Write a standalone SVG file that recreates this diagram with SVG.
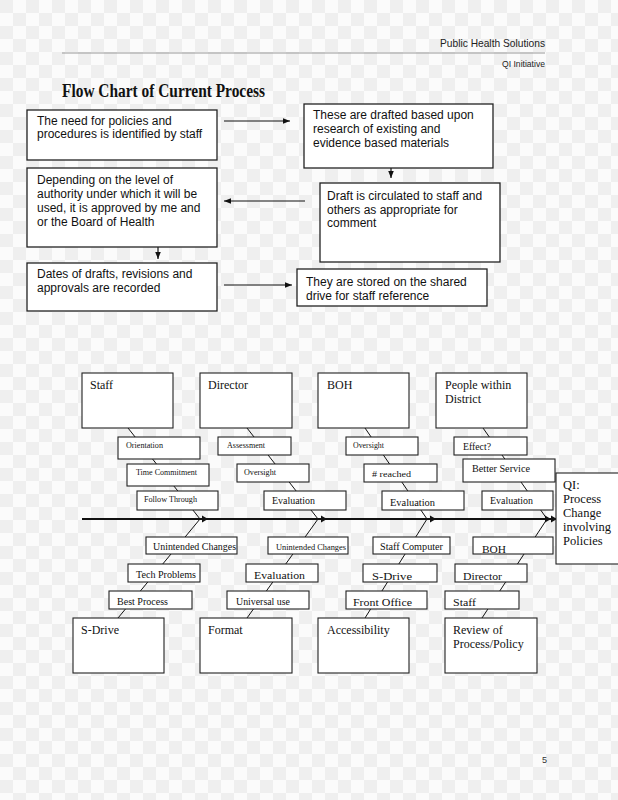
<svg xmlns="http://www.w3.org/2000/svg" width="618" height="800" viewBox="0 0 618 800">
<defs>
<pattern id="chk" width="26" height="26" patternUnits="userSpaceOnUse"><rect width="26" height="26" fill="#fbfbfb"/><rect width="13" height="13" fill="#efefef"/><rect x="13" y="13" width="13" height="13" fill="#efefef"/></pattern>
<marker id="ah" viewBox="0 0 10 10" refX="10" refY="5" markerWidth="7" markerHeight="7" orient="auto" markerUnits="userSpaceOnUse"><path d="M0,1 L10,5 L0,9 z" fill="#111"/></marker>
<style>
.fb{fill:#fff;stroke:#222;stroke-width:1.3}
.bx{fill:#fff;stroke:#222;stroke-width:1.1}
.s{font-family:"Liberation Sans",Arial,sans-serif;font-size:12px;fill:#111}
.t{font-family:"Liberation Serif","Times New Roman",serif;fill:#111}
.big{font-size:12px}
.ln{stroke:#111;stroke-width:1.2;fill:none}
.bone{stroke:#111;stroke-width:1;fill:none}
.ah{fill:#111}
</style>
</defs>
<rect width="618" height="800" fill="url(#chk)"/>

<g id="header">
<text x="545" y="47" text-anchor="end" font-family="'Liberation Sans',Arial,sans-serif" font-size="11" fill="#222" textLength="105" lengthAdjust="spacingAndGlyphs">Public Health Solutions</text>
<line x1="62" y1="53" x2="545" y2="53" stroke="#999" stroke-width="1"/>
<text x="545" y="67" text-anchor="end" font-family="'Liberation Sans',Arial,sans-serif" font-size="8.5" fill="#222" textLength="43" lengthAdjust="spacingAndGlyphs">QI Initiative</text>
<text x="62" y="97" font-family="'Liberation Serif','Times New Roman',serif" font-weight="bold" font-size="18.5" fill="#111" textLength="203" lengthAdjust="spacingAndGlyphs">Flow Chart of Current Process</text>
<text x="542" y="763" font-family="'Liberation Sans',Arial,sans-serif" font-size="9" fill="#333">5</text>
</g>

<g id="connectors">
<line class="ln" x1="224" y1="121" x2="290" y2="121" marker-end="url(#ah)"/>
<line class="ln" x1="391" y1="168" x2="391" y2="178" marker-end="url(#ah)"/>
<line class="ln" x1="305" y1="201" x2="224" y2="201" marker-end="url(#ah)"/>
<line class="ln" x1="158" y1="247" x2="158" y2="259" marker-end="url(#ah)"/>
<line class="ln" x1="224" y1="285" x2="292" y2="285" marker-end="url(#ah)"/>
<line class="bone" x1="128" y1="428" x2="200" y2="519"/>
<line class="bone" x1="247" y1="428" x2="318" y2="519"/>
<line class="bone" x1="365" y1="428" x2="427" y2="519"/>
<line class="bone" x1="483" y1="428" x2="547" y2="519"/>
<line class="bone" x1="200" y1="519" x2="118" y2="618"/>
<line class="bone" x1="318" y1="519" x2="247" y2="618"/>
<line class="bone" x1="427" y1="519" x2="365" y2="618"/>
<line class="bone" x1="547" y1="519" x2="482" y2="618"/>
<line x1="82" y1="519" x2="557" y2="519" stroke="#111" stroke-width="2"/>
<polygon class="ah" points="202,515.5 208,519 202,522.5"/>
<polygon class="ah" points="321,515.5 327,519 321,522.5"/>
<polygon class="ah" points="430,515.5 436,519 430,522.5"/>
<polygon class="ah" points="545,515.5 551,519 545,522.5"/>
<polygon class="ah" points="551,515.5 557,519 551,522.5"/>
<polygon class="ah" points="557,515.5 563,519 557,522.5"/>
</g>

<g id="n1"><rect class="fb" x="27" y="110" width="190" height="50"/>
<text class="s" x="37" y="125">The need for policies and</text>
<text class="s" x="37" y="138">procedures is identified by staff</text></g>
<g id="n2"><rect class="fb" x="304" y="104" width="189" height="64"/>
<text class="s" x="313" y="119">These are drafted based upon</text>
<text class="s" x="313" y="133">research of existing and</text>
<text class="s" x="313" y="147">evidence based materials</text></g>
<g id="n3"><rect class="fb" x="320" y="183" width="180" height="79"/>
<text class="s" x="327" y="200">Draft is circulated to staff and</text>
<text class="s" x="327" y="214">others as appropriate for</text>
<text class="s" x="327" y="227">comment</text></g>
<g id="n4"><rect class="fb" x="27" y="168" width="190" height="79"/>
<text class="s" x="37" y="184">Depending on the level of</text>
<text class="s" x="37" y="198">authority under which it will be</text>
<text class="s" x="37" y="212">used, it is approved by me and</text>
<text class="s" x="37" y="226">or the Board of Health</text></g>
<g id="n5"><rect class="fb" x="27" y="263" width="190" height="48"/>
<text class="s" x="37" y="278">Dates of drafts, revisions and</text>
<text class="s" x="37" y="292">approvals are recorded</text></g>
<g id="n6"><rect class="fb" x="297" y="269" width="190" height="37"/>
<text class="s" x="306" y="286">They are stored on the shared</text>
<text class="s" x="306" y="299.5">drive for staff reference</text></g>

<g id="staff"><rect class="bx" x="82" y="373" width="91" height="55"/><text class="t big" x="90" y="389">Staff</text></g>
<g id="director"><rect class="bx" x="200" y="373" width="92" height="55"/><text class="t big" x="208" y="389">Director</text></g>
<g id="boh"><rect class="bx" x="318" y="373" width="91" height="55"/><text class="t big" x="327" y="389">BOH</text></g>
<g id="people"><rect class="bx" x="436" y="373" width="91" height="55"/><text class="t big" x="445" y="389">People within</text><text class="t big" x="445" y="403">District</text></g>

<g id="orientation"><rect class="bx" x="118" y="437" width="82" height="22"/><text class="t" x="126" y="448" font-size="7.5" textLength="37" lengthAdjust="spacingAndGlyphs">Orientation</text></g>
<g id="timecommit"><rect class="bx" x="127" y="464" width="82" height="22"/><text class="t" x="136" y="475" font-size="8" textLength="61" lengthAdjust="spacingAndGlyphs">Time Commitment</text></g>
<g id="follow"><rect class="bx" x="137" y="491" width="81" height="19"/><text class="t" x="144" y="502" font-size="8" textLength="53" lengthAdjust="spacingAndGlyphs">Follow Through</text></g>
<g id="assessment"><rect class="bx" x="218" y="437" width="73" height="18"/><text class="t" x="227" y="448" font-size="7.5" textLength="38" lengthAdjust="spacingAndGlyphs">Assessment</text></g>
<g id="oversight1"><rect class="bx" x="237" y="464" width="72" height="18"/><text class="t" x="244" y="475" font-size="8" textLength="32" lengthAdjust="spacingAndGlyphs">Oversight</text></g>
<g id="eval1"><rect class="bx" x="264" y="491" width="82" height="19"/><text class="t" x="272" y="504" font-size="10" textLength="43" lengthAdjust="spacingAndGlyphs">Evaluation</text></g>
<g id="oversight2"><rect class="bx" x="346" y="437" width="72" height="18"/><text class="t" x="353" y="448" font-size="7.5" textLength="31" lengthAdjust="spacingAndGlyphs">Oversight</text></g>
<g id="reached"><rect class="bx" x="364" y="464" width="73" height="18"/><text class="t" x="372" y="477" font-size="9" textLength="39" lengthAdjust="spacingAndGlyphs"># reached</text></g>
<g id="eval2"><rect class="bx" x="382" y="491" width="82" height="19"/><text class="t" x="390" y="506" font-size="10" textLength="45" lengthAdjust="spacingAndGlyphs">Evaluation</text></g>
<g id="effect"><rect class="bx" x="454" y="437" width="73" height="18"/><text class="t" x="463" y="450" font-size="9.5" textLength="28" lengthAdjust="spacingAndGlyphs">Effect?</text></g>
<g id="better"><rect class="bx" x="463" y="459" width="92" height="23"/><text class="t" x="472" y="472" font-size="9.5" textLength="58" lengthAdjust="spacingAndGlyphs">Better Service</text></g>
<g id="eval3"><rect class="bx" x="482" y="491" width="71" height="19"/><text class="t" x="490" y="504" font-size="10" textLength="43" lengthAdjust="spacingAndGlyphs">Evaluation</text></g>

<g id="qi"><rect class="bx" x="556" y="473" width="66" height="91"/>
<text class="t" x="563" y="489" font-size="12.5">QI:</text>
<text class="t" x="563" y="503" font-size="12.5">Process</text>
<text class="t" x="563" y="517" font-size="12.5">Change</text>
<text class="t" x="563" y="531" font-size="12.5">involving</text>
<text class="t" x="563" y="545" font-size="12.5">Policies</text></g>

<g id="unint1"><rect class="bx" x="146" y="537" width="91" height="17"/><text class="t" x="153" y="550" font-size="10" textLength="83" lengthAdjust="spacingAndGlyphs">Unintended Changes</text></g>
<g id="tech"><rect class="bx" x="128" y="564" width="72" height="18"/><text class="t" x="136" y="578" font-size="10" textLength="60" lengthAdjust="spacingAndGlyphs">Tech Problems</text></g>
<g id="bestproc"><rect class="bx" x="109" y="591" width="83" height="18"/><text class="t" x="117" y="605" font-size="10" textLength="51" lengthAdjust="spacingAndGlyphs">Best Process</text></g>
<g id="unint2"><rect class="bx" x="268" y="537" width="80" height="17"/><text class="t" x="276" y="550" font-size="8" textLength="70" lengthAdjust="spacingAndGlyphs">Unintended Changes</text></g>
<g id="eval4"><rect class="bx" x="246" y="564" width="72" height="18"/><text class="t" x="254" y="579" font-size="11" textLength="51" lengthAdjust="spacingAndGlyphs">Evaluation</text></g>
<g id="universal"><rect class="bx" x="227" y="591" width="82" height="18"/><text class="t" x="236" y="605" font-size="10" textLength="54" lengthAdjust="spacingAndGlyphs">Universal use</text></g>
<g id="staffcomp"><rect class="bx" x="373" y="537" width="77" height="17"/><text class="t" x="380" y="550" font-size="9.5" textLength="63" lengthAdjust="spacingAndGlyphs">Staff Computer</text></g>
<g id="sdrive1"><rect class="bx" x="363" y="564" width="74" height="18"/><text class="t" x="372" y="580" font-size="11" textLength="40" lengthAdjust="spacingAndGlyphs">S-Drive</text></g>
<g id="frontoffice"><rect class="bx" x="346" y="591" width="81" height="18"/><text class="t" x="353" y="606" font-size="11" textLength="59" lengthAdjust="spacingAndGlyphs">Front Office</text></g>
<g id="boh2"><rect class="bx" x="473" y="537" width="80" height="17"/><text class="t" x="482" y="553" font-size="11" textLength="24" lengthAdjust="spacingAndGlyphs">BOH</text></g>
<g id="director2"><rect class="bx" x="455" y="564" width="72" height="18"/><text class="t" x="463" y="580" font-size="11" textLength="39" lengthAdjust="spacingAndGlyphs">Director</text></g>
<g id="staff2"><rect class="bx" x="445" y="591" width="74" height="18"/><text class="t" x="453" y="606" font-size="11" textLength="23" lengthAdjust="spacingAndGlyphs">Staff</text></g>

<g id="sdrive"><rect class="bx" x="73" y="618" width="91" height="55"/><text class="t big" x="81" y="634">S-Drive</text></g>
<g id="format"><rect class="bx" x="200" y="618" width="92" height="55"/><text class="t big" x="208" y="634">Format</text></g>
<g id="access"><rect class="bx" x="318" y="618" width="91" height="55"/><text class="t big" x="327" y="634">Accessibility</text></g>
<g id="review"><rect class="bx" x="445" y="618" width="92" height="55"/><text class="t big" x="453" y="634">Review of</text><text class="t big" x="453" y="648">Process/Policy</text></g>
</svg>
